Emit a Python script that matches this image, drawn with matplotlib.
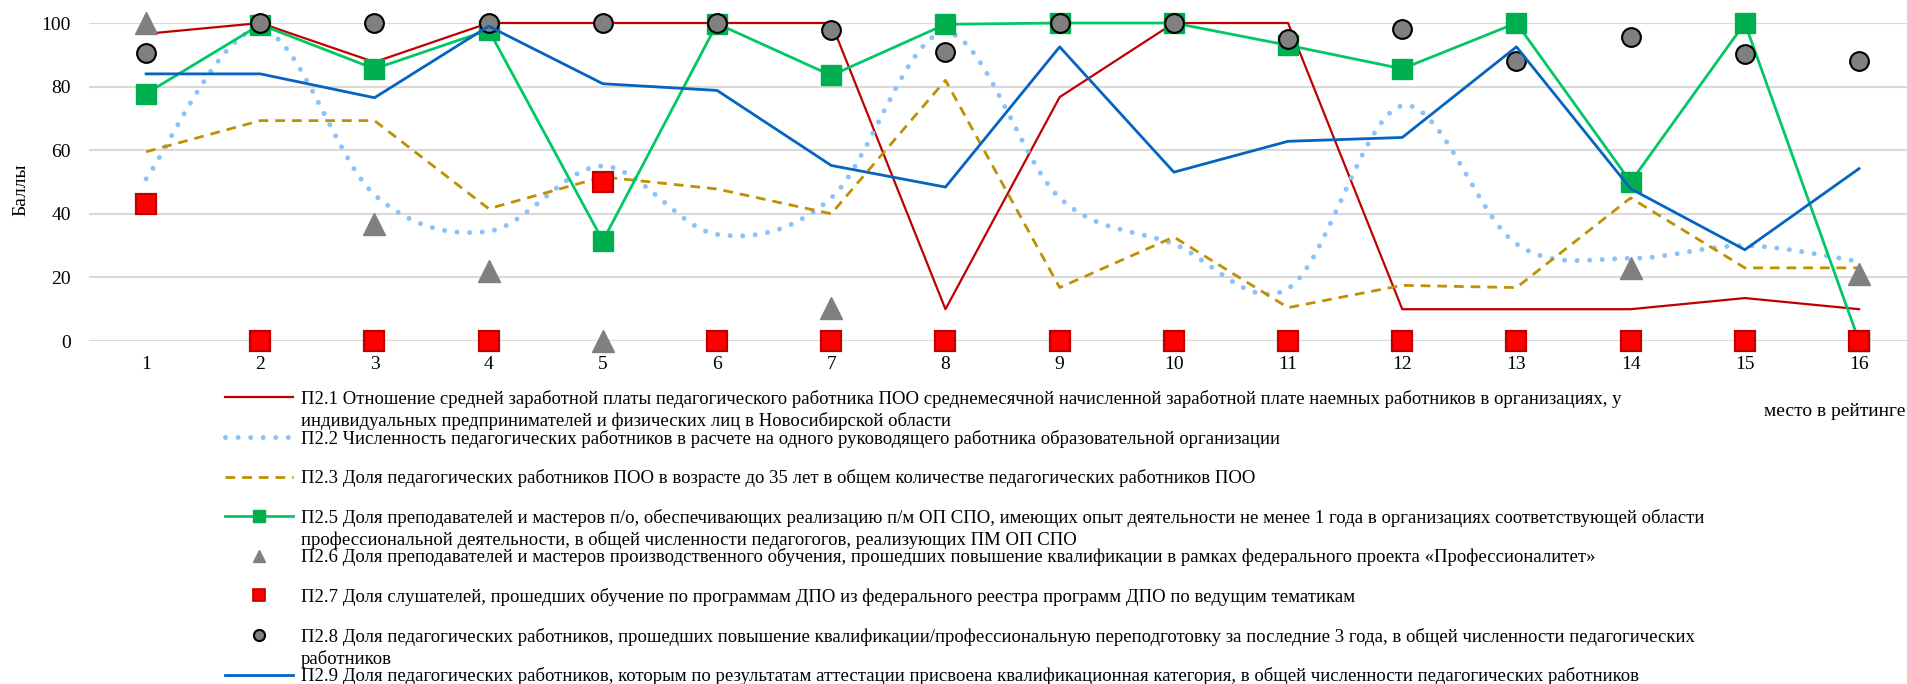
import numpy as np
import matplotlib
matplotlib.use('Agg')
import matplotlib.pyplot as plt
from matplotlib.lines import Line2D
from matplotlib.path import Path
from matplotlib.patches import PathPatch

plt.rcParams['font.family'] = ['Liberation Serif', 'DejaVu Serif']
plt.rcParams['font.size'] = 14

W, H = 1907, 684
nan = np.nan

places = list(range(1, 17))
p21 = [96.6, 100, 87.7, 100, 100, 100, 100, 10, 76.7, 100, 100, 10, 10, 10, 13.5, 10]
p22 = [51, 98, 46, 34.5, 55, 33.5, 45, 97, 45, 30.5, 16.5, 74, 30.5, 26, 30, 25]
p23 = [59.5, 69.3, 69.3, 41.6, 51.6, 47.8, 40, 82, 16.8, 32.7, 10.5, 17.5, 16.8, 45, 23, 23]
p25 = [77.8, 99.5, 85.6, 97.8, 31.5, 99.8, 83.5, 99.6, 100, 100, 93, 85.6, 100, 50, 100, 0]
p26 = [100, nan, 36.7, 22, 0, nan, 10.3, nan, nan, nan, nan, nan, nan, 23, nan, 21]
p27 = [43, 0, 0, 0, 50, 0, 0, 0, 0, 0, 0, 0, 0, 0, 0, 0]
p28 = [90.6, 100, 100, 100, 100, 100, 97.9, 90.9, 100, 100, 95, 98, 88, 95.6, 90.1, 88]
p29 = [84, 84, 76.5, 99, 80.9, 78.8, 55.2, 48.4, 92.5, 53.1, 62.8, 64, 92.5, 47.9, 28.7, 54.2]

labels = [
    "П2.1 Отношение средней заработной платы педагогического работника ПОО среднемесячной начисленной заработной плате наемных работников в организациях, у",
    "П2.2 Численность педагогических работников в расчете на одного руководящего работника образовательной организации",
    "П2.3 Доля педагогических работников ПОО в возрасте до 35 лет в общем количестве педагогических работников ПОО",
    "П2.5 Доля преподавателей и мастеров п/о, обеспечивающих реализацию п/м ОП СПО, имеющих опыт деятельности не менее 1 года в организациях соответствующей области",
    "П2.6 Доля преподавателей и мастеров производственного обучения, прошедших повышение квалификации в рамках федерального проекта «Профессионалитет»",
    "П2.7 Доля слушателей, прошедших обучение по программам ДПО из федерального реестра программ ДПО по ведущим тематикам",
    "П2.8 Доля педагогических работников, прошедших повышение квалификации/профессиональную переподготовку за последние 3 года, в общей численности педагогических",
    "П2.9 Доля педагогических работников, которым по результатам аттестации присвоена квалификационная категория, в общей численности педагогических работников",
]
# second lines of the wrapped legend entries (entry index -> text)
label_tails = {
    0: "индивидуальных предпринимателей и физических лиц в Новосибирской области",
    3: "профессиональной деятельности, в общей численности педагогогов, реализующих ПМ ОП СПО",
    6: "работников",
}

red = '#C00000'
lblue = '#8CC2FA'
gold = '#BF9000'
green_line = '#00C864'
green = '#00B050'
gray = '#808080'
blue = '#0563C1'


def smooth_path(xs, ys):
    # catmull-rom style bezier, like excel's smoothed line
    pts = np.column_stack([xs, ys]).astype(float)
    n = len(pts)
    verts = [pts[0]]
    codes = [Path.MOVETO]
    for i in range(n - 1):
        p0 = pts[max(i - 1, 0)]
        p1 = pts[i]
        p2 = pts[i + 1]
        p3 = pts[min(i + 2, n - 1)]
        verts += [p1 + (p2 - p0) / 6.0, p2 - (p3 - p1) / 6.0, p2]
        codes += [Path.CURVE4] * 3
    return Path(verts, codes)


fig = plt.figure(figsize=(W / 100, H / 100), dpi=100)
ax = fig.add_axes([89 / W, (H - 341) / H, (W - 89) / W, 318 / H])
ax.set_xlim(0.5, 16.42)
ax.set_ylim(0, 100)
ax.set_yticks([0, 20, 40, 60, 80, 100])
ax.set_xticks(places)
ax.grid(axis='y', color='#D9D9D9', lw=1.5)
ax.set_axisbelow(True)
for s in ax.spines.values():
    s.set_visible(False)
ax.tick_params(axis='both', length=0, labelsize=14)
ax.tick_params(axis='x', pad=11)
ax.tick_params(axis='y', pad=13)

ax.plot(places, p21, color=red, lw=1.6, clip_on=False, zorder=3)
ax.add_patch(PathPatch(smooth_path(places, p22), fill=False, edgecolor=lblue, lw=3.6,
                       linestyle=(0, (0.01, 2.5)), capstyle='round', zorder=3, clip_on=False))
ax.plot(places, p23, color=gold, lw=2.0, ls=(0, (3.5, 2.5)), clip_on=False, zorder=3)
ax.plot(places, p25, color=green_line, lw=2.0, marker='s', ms=14.4, mfc=green, mec=green,
        clip_on=False, zorder=3)
ax.plot(places, p26, ls='none', marker='^', ms=16, color=gray, clip_on=False, zorder=3)
ax.plot(places, p27, ls='none', marker='s', ms=14, mfc='#FF0000', mec=red, mew=1.6,
        clip_on=False, zorder=3)
ax.plot(places, p28, ls='none', marker='o', ms=13.5, mfc=gray, mec='black', mew=1.5,
        clip_on=False, zorder=3)
ax.plot(places, p29, color=blue, lw=2.0, clip_on=False, zorder=3)

ax.set_ylabel('Баллы', fontsize=14, va='center')
ax.yaxis.set_label_coords((21 - 89) / 1818, (341 - 190) / 318)
ax.set_xlabel('место в рейтинге', fontsize=14, ha='right', va='center')
ax.xaxis.set_label_coords((1905 - 89) / 1818, (341 - 411) / 318)

handles = [
    Line2D([], [], color=red, lw=1.6),
    Line2D([], [], color=lblue, lw=3.6, ls=(0, (0.01, 2.5)), dash_capstyle='round'),
    Line2D([], [], color=gold, lw=2.0, ls=(0, (3.5, 2.5))),
    Line2D([], [], color=green_line, lw=2.0, marker='s', ms=8, mfc=green, mec=green),
    Line2D([], [], ls='none', marker='^', ms=9, color=gray),
    Line2D([], [], ls='none', marker='s', ms=8, mfc='#FF0000', mec=red, mew=1.2),
    Line2D([], [], ls='none', marker='o', ms=8, mfc=gray, mec='black', mew=1.5),
    Line2D([], [], color=blue, lw=2.0),
]

leg_fs = 13.5
fs_px = leg_fs * 100 / 72.0
hl = 68 / fs_px
tp = 8 / fs_px


def make_legend(spacing, top):
    return fig.legend(handles, labels, loc='upper left', bbox_to_anchor=(225 / W, top / H),
                      frameon=False, handlelength=hl, handletextpad=tp, labelspacing=spacing,
                      borderpad=0, borderaxespad=0, fontsize=leg_fs, numpoints=1)


# build once, measure, then rebuild with corrected spacing/position
spacing, top = 0.9, H - 388
leg = make_legend(spacing, top)
fig.canvas.draw()
r = fig.canvas.get_renderer()
ext = [t.get_window_extent(r) for t in leg.get_texts()]
c0 = (ext[0].y0 + ext[0].y1) / 2
step = (c0 - (ext[-1].y0 + ext[-1].y1) / 2) / 7
spacing += (39.6 - step) / fs_px
top += (H - 399) - c0
leg.remove()
leg = make_legend(spacing, top)
fig.canvas.draw()
ext = [t.get_window_extent(r) for t in leg.get_texts()]
for i, tail in label_tails.items():
    cy = (ext[i].y0 + ext[i].y1) / 2 - 22.5
    fig.text(ext[i].x0 / W, cy / H, tail, fontsize=leg_fs, ha='left', va='center')

fig.savefig('out.png', dpi=100)
